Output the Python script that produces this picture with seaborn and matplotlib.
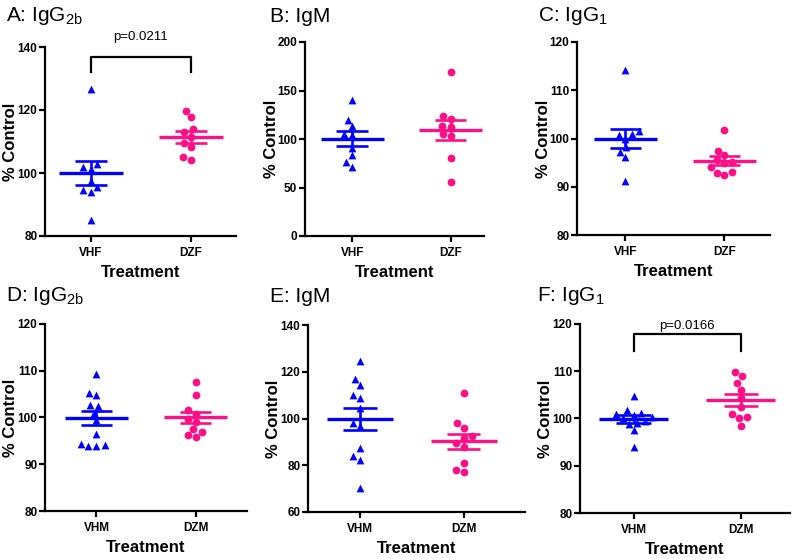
import numpy as np
import pandas as pd
import seaborn as sns
import matplotlib
matplotlib.use('Agg')
import matplotlib.pyplot as plt

# values (% Control)
a_vh = [126.6, 102.8, 102.0, 101.2, 97.5, 95.6, 94.6, 93.9, 85.1]
a_dz = [119.8, 117.9, 113.9, 112.9, 111.5, 109.6, 108.4, 105.0, 104.1]
b_vh = [140, 120, 113, 105, 104, 91, 83, 76, 71]
b_dz = [168.7, 123.5, 121.0, 113.3, 112.6, 104.8, 103.0, 80.3, 55.4]
c_vh = [114.1, 101.5, 100.9, 100.8, 99.9, 98.3, 97.3, 96.1, 91.1]
c_dz = [101.8, 97.5, 96.6, 95.6, 95.2, 94.9, 94.0, 93.0, 92.9, 92.5]
d_vh = [109.3, 105.2, 104.8, 102.7, 102.5, 101.0, 99.4, 96.5, 94.4, 94.1, 93.9, 93.9]
d_dz = [107.5, 104.8, 101.6, 100.8, 99.6, 99.1, 97.5, 97.0, 96.3, 95.9]
e_vh = [124.8, 116.9, 114.2, 110.1, 108.7, 104.7, 98.0, 96.6, 87.3, 83.8, 82.1, 70.2]
e_dz = [110.8, 98.0, 95.9, 92.3, 91.6, 89.5, 88.0, 80.9, 77.8, 76.9]
f_vh = [104.8, 101.8, 101.2, 101.0, 100.8, 100.3, 100.0, 99.5, 99.1, 98.8, 97.5, 94.0]
f_dz = [109.9, 108.9, 107.5, 106.0, 104.3, 102.5, 101.0, 100.4, 100.0, 98.4]

titles = ['A: IgG$_{\\mathregular{2b}}$', 'B: IgM', 'C: IgG$_{\\mathregular{1}}$',
          'D: IgG$_{\\mathregular{2b}}$', 'E: IgM', 'F: IgG$_{\\mathregular{1}}$']
groups_top = ['VHF', 'DZF']
groups_bottom = ['VHM', 'DZM']
yticks = [[80, 100, 120, 140], [0, 50, 100, 150, 200], [80, 90, 100, 110, 120],
          [80, 90, 100, 110, 120], [60, 80, 100, 120, 140], [80, 90, 100, 110, 120]]
pvals = {0: 'p=0.0211', 5: 'p=0.0166'}

blue = '#0000ff'
pink = '#ff0f87'

plt.rcParams['font.family'] = ['Liberation Sans', 'DejaVu Sans']
plt.rcParams['mathtext.default'] = 'regular'

W, H = 800, 559
fig = plt.figure(figsize=(8, 5.59), dpi=100)

# pixel boxes: left, right, top, bottom ; xlim
boxes = [(45, 236, 47, 236, (-0.46, 1.45)),
         (305, 484, 42, 236, (-0.48, 1.34)),
         (577, 770, 42, 235, (-0.49, 1.46)),
         (45, 247, 324, 511, (-0.52, 1.52)),
         (308, 525, 325, 512, (-0.50, 1.59)),
         (580, 790, 324, 513, (-0.50, 1.46))]
title_pos = [(6, 16), (270, 16), (538, 16), (6, 296), (270, 296), (537, 296)]

data = [(a_vh, a_dz), (b_vh, b_dz), (c_vh, c_dz), (d_vh, d_dz), (e_vh, e_dz), (f_vh, f_dz)]

for i, (vh, dz) in enumerate(data):
    l, r, t, b, xl = boxes[i]
    ax = fig.add_axes([l / W, (H - b) / H, (r - l) / W, (b - t) / H])
    names = groups_top if i < 3 else groups_bottom
    df = pd.DataFrame({'grp': [names[0]] * len(vh) + [names[1]] * len(dz),
                       'val': vh + dz})
    sns.swarmplot(data=df[df.grp == names[0]], x='grp', y='val', order=names, ax=ax,
                  color=blue, marker='^', size=5.6, linewidth=0)
    sns.swarmplot(data=df[df.grp == names[1]], x='grp', y='val', order=names, ax=ax,
                  color=pink, marker='o', size=5.6, linewidth=0)

    # mean and SEM bars
    for k, (vals, col) in enumerate([(vh, blue), (dz, pink)]):
        m = np.mean(vals)
        se = np.std(vals, ddof=1) / np.sqrt(len(vals))
        ax.hlines(m, k - 0.32, k + 0.32, color=col, lw=2.4, zorder=4)
        ax.hlines([m - se, m + se], k - 0.16, k + 0.16, color=col, lw=1.9, zorder=4)
        ax.vlines(k, m - se, m + se, color=col, lw=1.9, zorder=4)

    ax.set_xlim(*xl)
    ax.set_ylim(yticks[i][0], yticks[i][-1])
    ax.set_yticks(yticks[i])
    ax.set_xticks([0, 1])
    ax.set_xticklabels(names)
    sns.despine(ax=ax)
    for s in ['left', 'bottom']:
        ax.spines[s].set_linewidth(1.6)
    ax.tick_params(axis='both', width=1.6, length=4, labelsize=8.5)
    ax.tick_params(axis='y', pad=1.5)
    ax.tick_params(axis='x', pad=4)
    for lab in ax.get_xticklabels() + ax.get_yticklabels():
        lab.set_fontweight('bold')
    ax.set_xlabel('Treatment', fontsize=12, fontweight='bold', labelpad=4)
    ax.set_ylabel('% Control', fontsize=12, fontweight='bold')
    ax.yaxis.label.set_verticalalignment('center')
    ax.yaxis.set_label_coords(-34 / (r - l), 0.5)

    if i in pvals:
        lo, hi = yticks[i][0], yticks[i][-1]
        span = hi - lo
        top = hi - 0.053 * span
        leg = hi - 0.13 * span if i == 0 else hi - 0.143 * span
        ax.plot([0, 0, 1, 1], [leg, top, top, leg], color='black', lw=1.6, clip_on=False)
        ax.text(0.5, hi + 0.02 * span if i == 0 else hi - 0.04 * span,
                pvals[i], ha='center', va='bottom', fontsize=9.5)

    tx, ty = title_pos[i]
    fig.text(tx / W, 1 - ty / H, titles[i], fontsize=15, va='center', ha='left')

fig.savefig('out.png', dpi=100, facecolor='white')
